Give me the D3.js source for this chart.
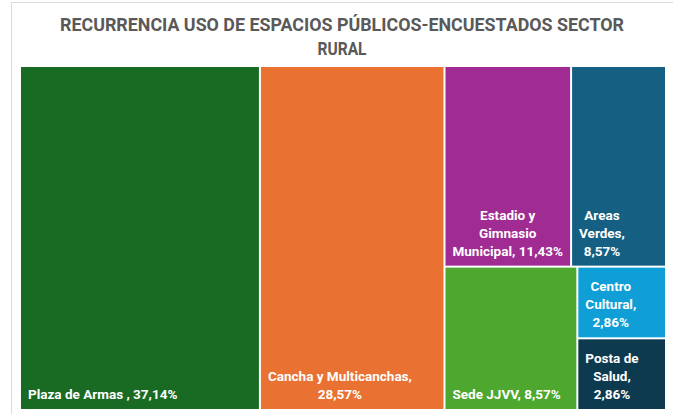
<!DOCTYPE html>
<html>
<head>
<meta charset="utf-8">
<script src="https://cdn.jsdelivr.net/npm/d3@7"></script>
<style>
  html, body { margin: 0; padding: 0; background: #ffffff; }
  svg { display: block; }
  text { font-family: Roboto, "Noto Sans", sans-serif; font-weight: 700; }
</style>
</head>
<body>
<svg id="chart" width="673" height="414"></svg>
<script>
// Survey results: how often each public space is used (rural respondents)
const titleLines = ["RECURRENCIA USO DE ESPACIOS PÚBLICOS-ENCUESTADOS SECTOR", "RURAL"];
const categories = [
  "Plaza de Armas ",
  "Cancha y Multicanchas",
  "Estadio y Gimnasio Municipal",
  "Areas Verdes",
  "Sede JJVV",
  "Centro Cultural",
  "Posta de Salud"
];
const values = [37.14, 28.57, 11.43, 8.57, 8.57, 2.86, 2.86];
const colors = ["#196B24", "#E97132", "#A02B93", "#156082", "#4EA72E", "#0F9ED5", "#0E3A4F"];

const W = 673, H = 414;
const area = { x: 21, y: 67, w: 644, h: 342 };
const pad = 7, lineH = 18, labelSize = 13.5;

const svg = d3.select("#chart");

// Chart frame
svg.append("rect")
  .attr("x", 11.5).attr("y", 2.5)
  .attr("width", 670).attr("height", 430)
  .attr("fill", "#ffffff")
  .attr("stroke", "#dcdcdc")
  .attr("stroke-width", 1);

// Title
const title = svg.append("g").attr("fill", "#595959");
title.append("text")
  .attr("x", 342).attr("y", 31)
  .attr("text-anchor", "middle")
  .attr("font-size", 18.5)
  .attr("textLength", 564)
  .attr("lengthAdjust", "spacingAndGlyphs")
  .text(titleLines[0]);
title.append("text")
  .attr("x", 342).attr("y", 55)
  .attr("text-anchor", "middle")
  .attr("font-size", 18.5)
  .attr("textLength", 49)
  .attr("lengthAdjust", "spacingAndGlyphs")
  .text(titleLines[1]);

// Treemap layout
const root = d3.hierarchy({ children: categories.map((name, i) => ({ name, value: values[i], color: colors[i] })) })
  .sum(d => d.value || 0);

d3.treemap()
  .tile(d3.treemapSquarify.ratio(1.1))
  .size([area.w, area.h])
  .paddingInner(2)
  .round(false)(root);

const pct = d3.formatLocale({ decimal: ",", thousands: ".", grouping: [3], currency: ["", ""] }).format(".2f");

const g = svg.append("g").attr("transform", `translate(${area.x},${area.y})`);

const cells = g.selectAll("g.cell")
  .data(root.leaves())
  .join("g")
  .attr("class", "cell");

cells.append("rect")
  .attr("x", d => d.x0)
  .attr("y", d => d.y0)
  .attr("width", d => d.x1 - d.x0)
  .attr("height", d => d.y1 - d.y0)
  .attr("fill", d => d.data.color);

// Measure text width with the label font
const measurer = svg.append("text").attr("font-size", labelSize).attr("visibility", "hidden");
function textWidth(s) {
  measurer.text(s);
  return measurer.node().getComputedTextLength();
}

function wrap(label, maxW) {
  const words = label.split(/\s+/).filter(w => w.length);
  const lines = [];
  let cur = "";
  words.forEach(w => {
    const trial = cur ? cur + " " + w : w;
    if (!cur || textWidth(trial) <= maxW) cur = trial;
    else { lines.push(cur); cur = w; }
  });
  if (cur) lines.push(cur);
  return lines;
}

cells.each(function (d) {
  const label = d.data.name + ", " + pct(d.data.value) + "%";
  const avail = (d.x1 - d.x0) - 2 * pad;
  const lines = wrap(label.replace(" ,", " ,"), avail);
  const blockW = d3.max(lines, l => textWidth(l));
  const cx = d.x0 + pad + blockW / 2;
  const baseY = d.y1 - 10 - (lines.length - 1) * lineH;
  const t = d3.select(this).append("text")
    .attr("fill", "#ffffff")
    .attr("font-size", labelSize)
    .attr("text-anchor", "middle");
  lines.forEach((l, i) => {
    t.append("tspan").attr("x", cx).attr("y", baseY + i * lineH).text(l);
  });
});

measurer.remove();
</script>
</body>
</html>
